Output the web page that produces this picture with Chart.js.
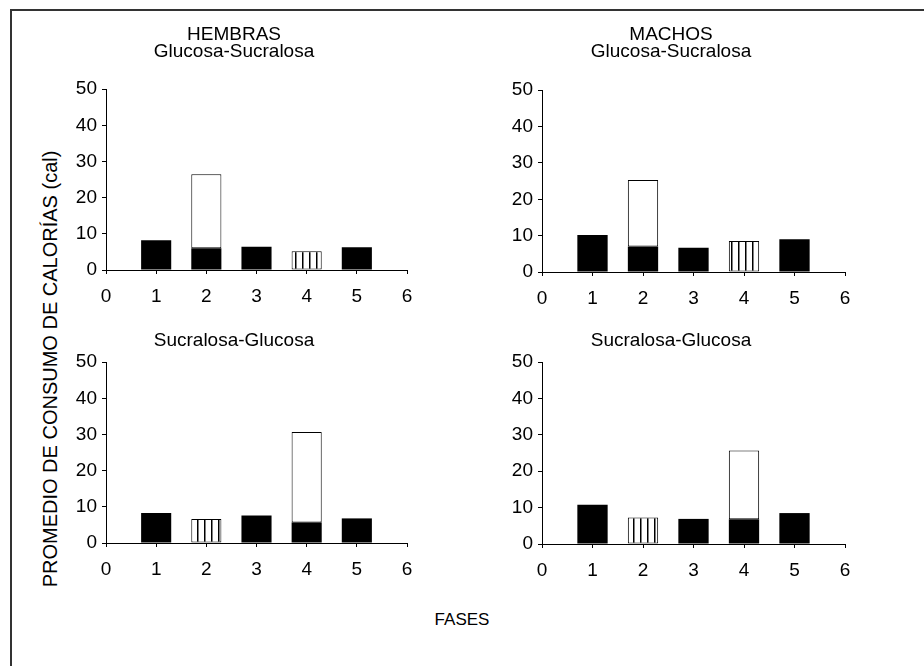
<!DOCTYPE html>
<html>
<head>
<meta charset="utf-8">
<script src="https://cdn.jsdelivr.net/npm/chart.js@4"></script>
<style>
  body { margin: 0; width: 924px; height: 666px; position: relative; overflow: hidden; background: #fff; font-family: 'Liberation Sans', Arial, sans-serif; color: #000; }
  #frame { position: absolute; left: 10px; top: 9px; width: 960px; height: 700px; border-left: 2px solid #333; border-top: 2px solid #333; }
  .panel { position: absolute; }
  #ytitle { position: absolute; left: 50px; top: 369px; transform: translate(-50%, -50%) rotate(-90deg); white-space: nowrap; font-size: 20px; }
  #xtitle { position: absolute; left: 462px; top: 620px; transform: translate(-50%, -50%); font-size: 17px; }
</style>
</head>
<body>
<div id="frame"></div>
<div id="ytitle">PROMEDIO DE CONSUMO DE CALORÍAS (cal)</div>
<div id="xtitle">FASES</div>
<canvas class="panel" id="c0"></canvas>
<canvas class="panel" id="c1"></canvas>
<canvas class="panel" id="c2"></canvas>
<canvas class="panel" id="c3"></canvas>
<script>
// fases and axis ticks
const fases = [1, 2, 3, 4, 5];
const xTicks = [0, 1, 2, 3, 4, 5, 6];
const yTicks = [0, 10, 20, 30, 40, 50];

// panel titles
const titulos = [
  ['HEMBRAS', 'Glucosa-Sucralosa'],
  ['MACHOS', 'Glucosa-Sucralosa'],
  'Sucralosa-Glucosa',
  'Sucralosa-Glucosa'
];

// black segment, white segment stacked on top, striped bar (cal)
const hembrasGS_negro  = [8.2, 6.0, 6.4, null, 6.3];
const hembrasGS_blanco = [null, 20.5, null, null, null];
const hembrasGS_rayas  = [null, null, null, 5.2, null];

const machosGS_negro  = [10.2, 7.0, 6.7, null, 9.0];
const machosGS_blanco = [null, 18.3, null, null, null];
const machosGS_rayas  = [null, null, null, 8.5, null];

const hembrasSG_negro  = [8.3, null, 7.6, 5.7, 6.8];
const hembrasSG_blanco = [null, null, null, 25.0, null];
const hembrasSG_rayas  = [null, 6.6, null, null, null];

const machosSG_negro  = [10.8, null, 6.9, 6.8, 8.5];
const machosSG_blanco = [null, null, null, 18.9, null];
const machosSG_rayas  = [null, 7.3, null, null, null];

const series = [
  [hembrasGS_negro, hembrasGS_blanco, hembrasGS_rayas],
  [machosGS_negro, machosGS_blanco, machosGS_rayas],
  [hembrasSG_negro, hembrasSG_blanco, hembrasSG_rayas],
  [machosSG_negro, machosSG_blanco, machosSG_rayas]
];

// canvas placement (layout only)
const layout = [
  { left: 61,  top: 20,  width: 391, height: 290, padRight: 45, tPadTop: 6, tPadBottom: 29 },
  { left: 497, top: 20,  width: 416, height: 292, padRight: 68, tPadTop: 6, tPadBottom: 30 },
  { left: 61,  top: 327, width: 426, height: 256, padRight: 80, tPadTop: 5, tPadBottom: 13 },
  { left: 497, top: 327, width: 396, height: 257, padRight: 48, tPadTop: 5, tPadBottom: 13 }
];

function stripePattern() {
  const c = document.createElement('canvas');
  c.width = 7; c.height = 7;
  const g = c.getContext('2d');
  g.fillStyle = '#fff';
  g.fillRect(0, 0, 7, 7);
  g.fillStyle = '#000';
  g.fillRect(3, 0, 1.5, 7);
  return g.createPattern(c, 'repeat');
}

const font = { family: "'Liberation Sans', Arial, sans-serif", size: 19 };

function toPoints(arr) {
  return fases.map((f, i) => ({ x: f, y: arr[i] }));
}

layout.forEach((L, k) => {
  const cv = document.getElementById('c' + k);
  cv.width = L.width;
  cv.height = L.height;
  cv.style.left = L.left + 'px';
  cv.style.top = L.top + 'px';
  const [negro, blanco, rayas] = series[k];
  const common = { categoryPercentage: 1, barPercentage: 0.6, borderSkipped: false };

  new Chart(cv.getContext('2d'), {
    type: 'bar',
    data: {
      datasets: [
        { label: 'negro', data: toPoints(negro), backgroundColor: '#000', borderWidth: 0, ...common },
        { label: 'blanco', data: toPoints(blanco), backgroundColor: '#fff', borderColor: '#000', borderWidth: 1, ...common },
        { label: 'rayas', data: toPoints(rayas), backgroundColor: stripePattern(), borderColor: '#000', borderWidth: 1, ...common }
      ]
    },
    options: {
      responsive: false,
      animation: false,
      layout: { padding: { left: 0, right: L.padRight, top: 0, bottom: 0 } },
      plugins: {
        legend: { display: false },
        tooltip: { enabled: false },
        title: {
          display: true,
          text: titulos[k],
          color: '#000',
          font: { family: font.family, size: 19, weight: 'normal', lineHeight: 0.9 },
          padding: { top: L.tPadTop, bottom: L.tPadBottom }
        }
      },
      scales: {
        x: {
          type: 'linear',
          stacked: true,
          offset: false,
          min: 0, max: 6,
          afterBuildTicks: s => { s.ticks = xTicks.map(v => ({ value: v })); },
          afterFit: s => { s.height = 40; },
          ticks: { color: '#000', font, padding: 11, maxRotation: 0 },
          grid: { display: true, offset: false, drawOnChartArea: false, drawTicks: true, tickLength: 4, color: '#000' },
          border: { color: '#000', width: 1 }
        },
        y: {
          stacked: true,
          min: 0, max: 50,
          afterBuildTicks: s => { s.ticks = yTicks.map(v => ({ value: v })); },
          afterFit: s => { s.width = 45; },
          ticks: { color: '#000', font, padding: 5 },
          grid: { display: true, drawOnChartArea: false, drawTicks: true, tickLength: 4, color: '#000' },
          border: { color: '#000', width: 1 }
        }
      }
    }
  });
});
</script>
</body>
</html>
